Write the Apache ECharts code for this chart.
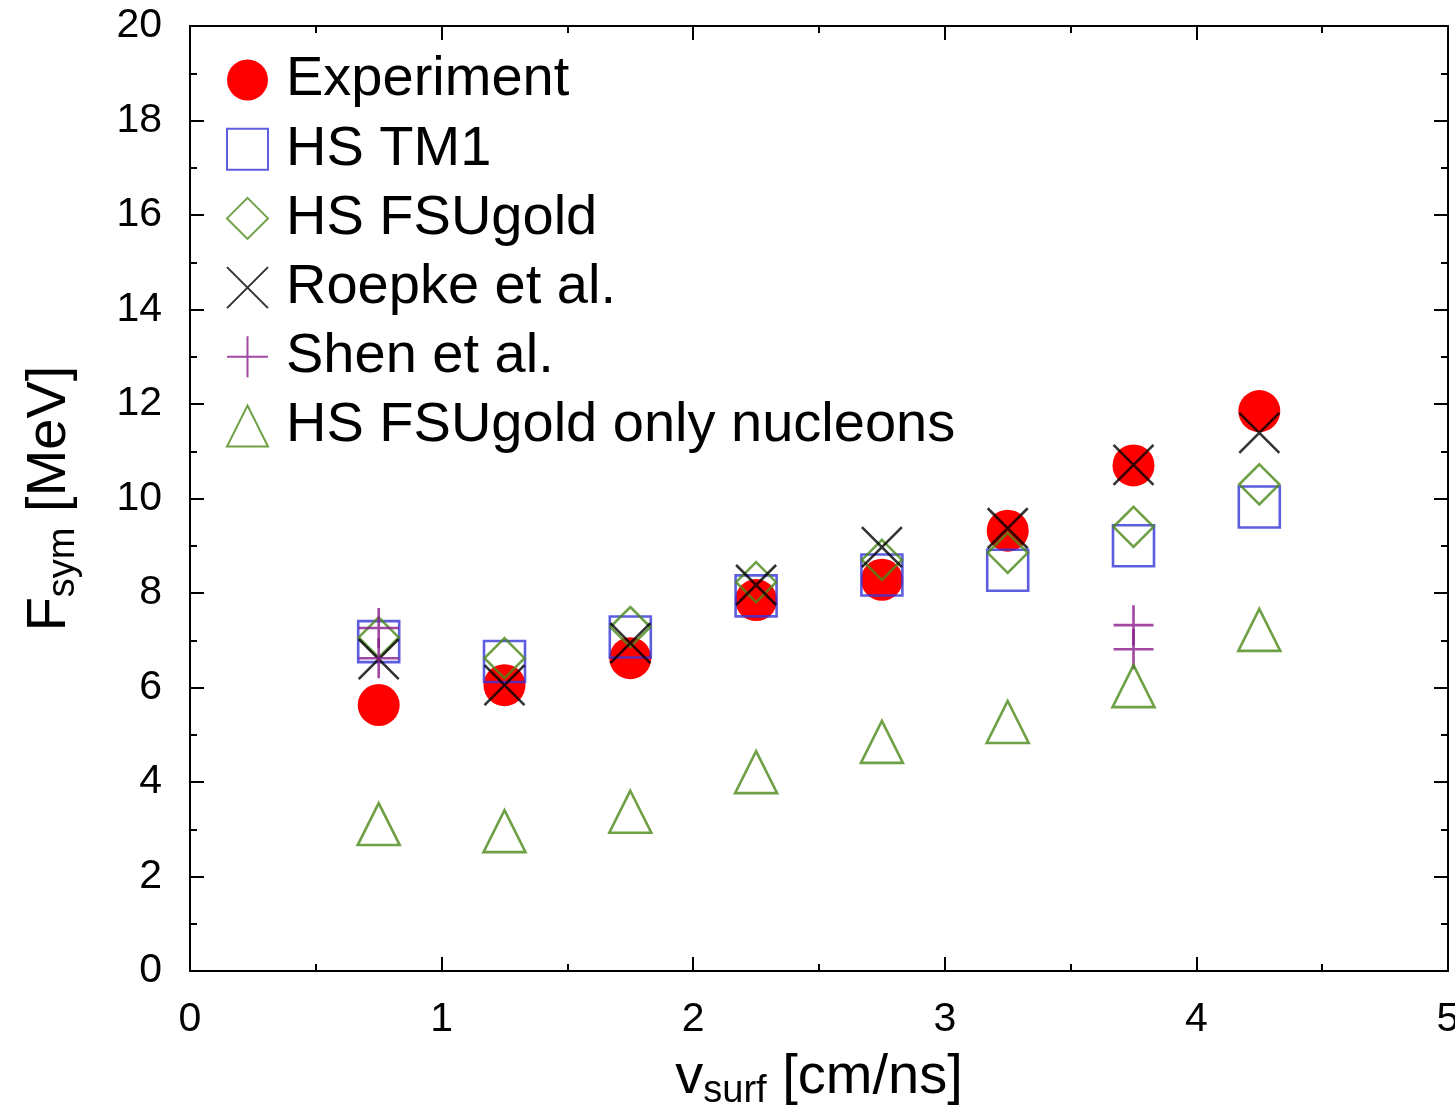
<!DOCTYPE html>
<html>
<head>
<meta charset="utf-8">
<script src="https://cdn.jsdelivr.net/npm/echarts@6/dist/echarts.min.js"></script>
<style>
  html, body { margin: 0; padding: 0; background: #fff; }
  #chart { width: 1455px; height: 1119px; }
</style>
</head>
<body>
<div id="chart"></div>
<script>
// ---- data ----
const xVals = [0.75, 1.25, 1.75, 2.25, 2.75, 3.25, 3.75, 4.25];
const experiment = [5.63, 6.05, 6.62, 7.85, 8.28, 9.32, 10.70, 11.85];
const hsTM1 = [6.97, 6.55, 7.07, 7.94, 8.38, 8.48, 9.00, 9.82];
const hsFSUgold = [7.06, 6.62, 7.28, 8.23, 8.70, 8.85, 9.40, 10.30];
const roepke = [6.60, 6.05, 6.94, 8.17, 8.97, 9.37, 10.71, 11.39];
const shenX = [0.75, 0.75, 3.75, 3.75];
const shenY = [7.26, 6.62, 7.32, 6.81];
const nucleonsOnly = [3.11, 2.96, 3.37, 4.21, 4.85, 5.27, 6.03, 7.22];
const seriesNames = ['Experiment', 'HS TM1', 'HS FSUgold', 'Roepke et al.', 'Shen et al.', 'HS FSUgold only nucleons'];
const xTicks = [0, 1, 2, 3, 4, 5];
const yTicks = [0, 2, 4, 6, 8, 10, 12, 14, 16, 18, 20];

const FONT = 'Liberation Sans';
const pairs = (xs, ys) => ys.map((y, i) => [xs[i], y]);

const X_PATH = 'path://M0,0L10,10M10,0L0,10';
const PLUS_PATH = 'path://M5,0L5,10M0,5L10,5';

function hollow(color, w) {
  return { color: 'rgba(0,0,0,0)', borderColor: color, borderWidth: w || 2.6 };
}

const chart = echarts.init(document.getElementById('chart'), null, { renderer: 'canvas' });

const tickCommon = {
  axisLine: { show: true, onZero: false, lineStyle: { color: '#000', width: 2 } },
  axisTick: { show: true, inside: true, length: 14, lineStyle: { color: '#000', width: 2 } },
  minorTick: { show: true, splitNumber: 2, length: 7, lineStyle: { color: '#000', width: 2 } },
  splitLine: { show: false },
  minorSplitLine: { show: false }
};

const titleRich = {
  a: { fontFamily: FONT, fontSize: 56, color: '#000', lineHeight: 60 },
  b: { fontFamily: FONT, fontSize: 38, color: '#000', lineHeight: 60, padding: [28, 0, 0, 0] }
};

const option = {
  animation: false,
  backgroundColor: '#fff',
  grid: { left: 190, right: 7, top: 26, bottom: 148, containLabel: false, outerBoundsMode: 'none' },
  legend: {
    orient: 'vertical',
    left: 221,
    top: 47,
    itemWidth: 41,
    itemHeight: 41,
    itemGap: 13.2,
    selectedMode: false,
    data: seriesNames,
    textStyle: { fontFamily: FONT, fontSize: 56, color: '#000', lineHeight: 48, padding: [0, 0, 0, 13] }
  },
  xAxis: [
    Object.assign({
      type: 'value', min: 0, max: 5, interval: 1, position: 'bottom',
      axisLabel: {
        show: true, margin: 28, color: '#000', fontFamily: FONT, fontSize: 41,
        formatter: v => (xTicks.indexOf(v) >= 0 ? String(v) : '')
      },
      name: '{a|v}{b|surf}{a| [cm/ns]}',
      nameLocation: 'middle',
      nameGap: 66,
      nameTextStyle: { rich: titleRich }
    }, tickCommon),
    Object.assign({
      type: 'value', min: 0, max: 5, interval: 1, position: 'top',
      axisLabel: { show: false }
    }, tickCommon)
  ],
  yAxis: [
    Object.assign({
      type: 'value', min: 0, max: 20, interval: 2, position: 'left',
      axisLabel: {
        show: true, margin: 28, color: '#000', fontFamily: FONT, fontSize: 41,
        formatter: v => (yTicks.indexOf(v) >= 0 ? String(v) : '')
      },
      name: '{a|F}{b|sym}{a| [MeV]}',
      nameLocation: 'middle',
      nameGap: 110,
      nameTextStyle: { rich: titleRich }
    }, tickCommon),
    Object.assign({
      type: 'value', min: 0, max: 20, interval: 2, position: 'right',
      axisLabel: { show: false }
    }, tickCommon)
  ],
  series: [
    {
      name: seriesNames[0], type: 'scatter', xAxisIndex: 0, yAxisIndex: 0,
      symbol: 'circle', symbolSize: 42,
      itemStyle: { color: '#ff0000', opacity: 1 },
      emphasis: { disabled: true },
      data: pairs(xVals, experiment), z: 2
    },
    {
      name: seriesNames[1], type: 'scatter', xAxisIndex: 0, yAxisIndex: 0,
      symbol: 'rect', symbolSize: 41,
      itemStyle: hollow('#3434d8'),
      emphasis: { disabled: true },
      data: pairs(xVals, hsTM1), z: 3
    },
    {
      name: seriesNames[2], type: 'scatter', xAxisIndex: 0, yAxisIndex: 0,
      symbol: 'diamond', symbolSize: 40,
      itemStyle: hollow('#4a8a18'),
      emphasis: { disabled: true },
      data: pairs(xVals, hsFSUgold), z: 4
    },
    {
      name: seriesNames[3], type: 'scatter', xAxisIndex: 0, yAxisIndex: 0,
      symbol: X_PATH, symbolSize: 40,
      itemStyle: hollow('#000000'),
      emphasis: { disabled: true },
      data: pairs(xVals, roepke), z: 5
    },
    {
      name: seriesNames[4], type: 'scatter', xAxisIndex: 0, yAxisIndex: 0,
      symbol: PLUS_PATH, symbolSize: 40,
      itemStyle: hollow('#8b1a8b'),
      emphasis: { disabled: true },
      data: pairs(shenX, shenY), z: 6
    },
    {
      name: seriesNames[5], type: 'scatter', xAxisIndex: 0, yAxisIndex: 0,
      symbol: 'triangle', symbolSize: [42, 42],
      itemStyle: hollow('#4a8a18'),
      emphasis: { disabled: true },
      data: pairs(xVals, nucleonsOnly), z: 7
    }
  ]
};

chart.setOption(option);
</script>
</body>
</html>
